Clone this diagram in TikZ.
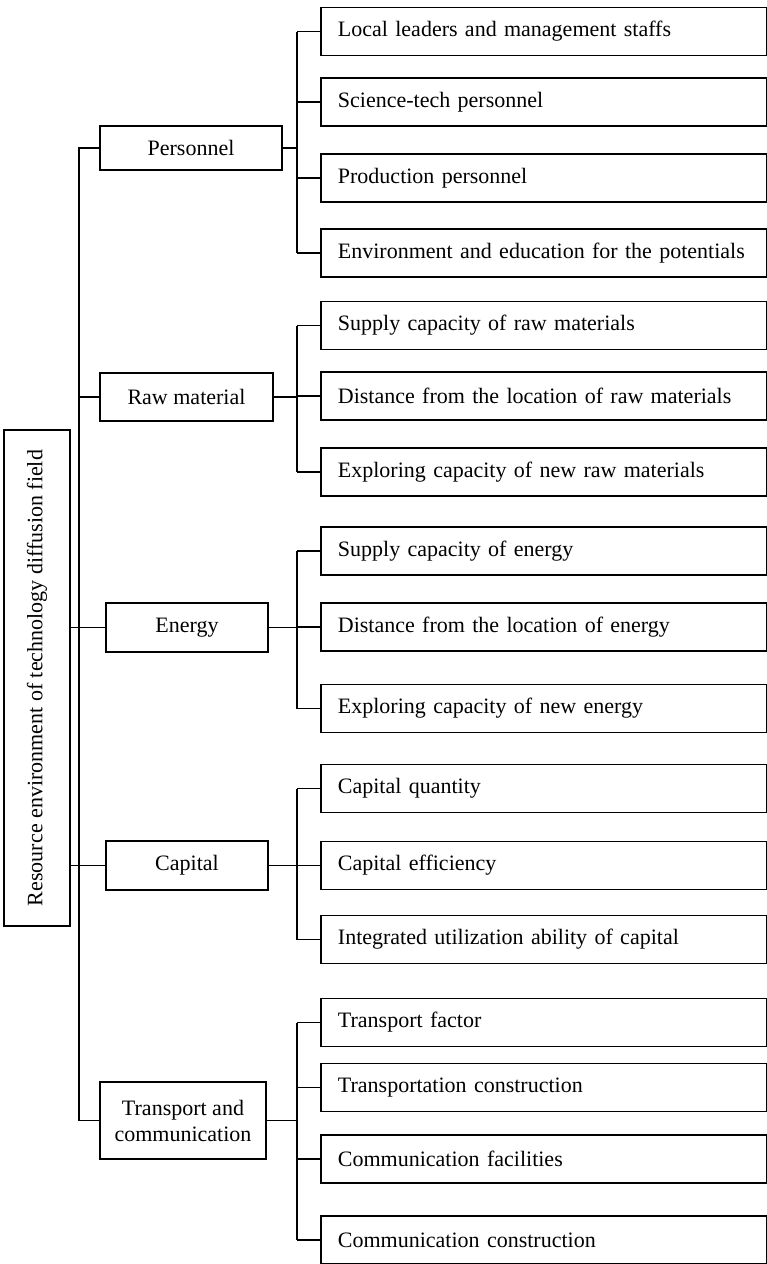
\documentclass[tikz,border=0pt]{standalone}
\usepackage{fontspec}
\setmainfont{Liberation Serif}
\begin{document}
\begin{tikzpicture}[x=0.75pt,y=-0.75pt,line width=1.4pt,
  box/.style={draw, rectangle, line width=1.4pt, inner sep=0pt,
    font=\fontsize{16.5}{19.5}\selectfont},
  mid/.style={box, align=center},
  leaf/.style={box, anchor=west, minimum width=334.5pt, minimum height=36pt,
    inner xsep=12.75pt, text width=309pt, align=left},
  wire/.style={draw, line width=1.4pt}]
\useasboundingbox (0,0) rectangle (767,1264);

% root box, text running bottom to top
\node[box, rotate=90, minimum width=372pt, minimum height=49.5pt] (root) at (37,678)
  {Resource environment of technology diffusion field};

% first level
\node[mid, minimum width=136.5pt, minimum height=33pt]   (pers)  at (191,148)    {Personnel};
\node[mid, minimum width=129.75pt, minimum height=36pt]  (raw)   at (186.5,397)  {Raw material};
\node[mid, minimum width=121.5pt, minimum height=36.75pt] (en)   at (187,627.5)  {Energy};
\node[mid, minimum width=121.5pt, minimum height=36.75pt] (cap)  at (187,865.5)  {Capital};
\node[mid, minimum width=124.5pt, minimum height=57.75pt] (trans) at (183,1120.5) {Transport and\\communication};

% second level
\node[leaf] (p1) at (320,31.5)  {Local leaders and management staffs};
\node[leaf] (p2) at (320,102)   {Science-tech personnel};
\node[leaf] (p3) at (320,178)   {Production personnel};
\node[leaf] (p4) at (320,253)   {Environment and education for the potentials};
\node[leaf] (r1) at (320,325.5) {Supply capacity of raw materials};
\node[leaf] (r2) at (320,396)   {Distance from the location of raw materials};
\node[leaf] (r3) at (320,472)   {Exploring capacity of new raw materials};
\node[leaf] (e1) at (320,551)   {Supply capacity of energy};
\node[leaf] (e2) at (320,627)   {Distance from the location of energy};
\node[leaf] (e3) at (320,708.5) {Exploring capacity of new energy};
\node[leaf] (c1) at (320,788.5) {Capital quantity};
\node[leaf] (c2) at (320,865.5) {Capital efficiency};
\node[leaf] (c3) at (320,939.5) {Integrated utilization ability of capital};
\node[leaf] (t1) at (320,1022.5) {Transport factor};
\node[leaf] (t2) at (320,1087.5) {Transportation construction};
\node[leaf] (t3) at (320,1159)  {Communication facilities};
\node[leaf] (t4) at (320,1240)  {Communication construction};

% vertical rails
\coordinate (trunk) at (79,0);
\coordinate (bus) at (297,0);

% trunk joining the first level
\draw[wire] (pers.west) -- (trunk |- pers.west) -- (trunk |- trans.west) -- (trans.west);
\draw[wire] (trunk |- raw.west) -- (raw.west);
\draw[wire] (root.south |- en.west) -- (en.west);
\draw[wire] (root.south |- cap.west) -- (cap.west);

% buses to the second level
\draw[wire] (pers.east) -- (bus |- pers.east);
\draw[wire] (bus |- p1.west) -- (bus |- p4.west);
\foreach \c in {p1,p2,p3,p4} \draw[wire] (bus |- \c.west) -- (\c.west);

\draw[wire] (raw.east) -- (bus |- raw.east);
\draw[wire] (bus |- r1.west) -- (bus |- r3.west);
\foreach \c in {r1,r2,r3} \draw[wire] (bus |- \c.west) -- (\c.west);

\draw[wire] (en.east) -- (bus |- en.east);
\draw[wire] (bus |- e1.west) -- (bus |- e3.west);
\foreach \c in {e1,e2,e3} \draw[wire] (bus |- \c.west) -- (\c.west);

\draw[wire] (cap.east) -- (bus |- cap.east);
\draw[wire] (bus |- c1.west) -- (bus |- c3.west);
\foreach \c in {c1,c2,c3} \draw[wire] (bus |- \c.west) -- (\c.west);

\draw[wire] (trans.east) -- (bus |- trans.east);
\draw[wire] (bus |- t1.west) -- (bus |- t4.west);
\foreach \c in {t1,t2,t3,t4} \draw[wire] (bus |- \c.west) -- (\c.west);
\end{tikzpicture}
\end{document}
